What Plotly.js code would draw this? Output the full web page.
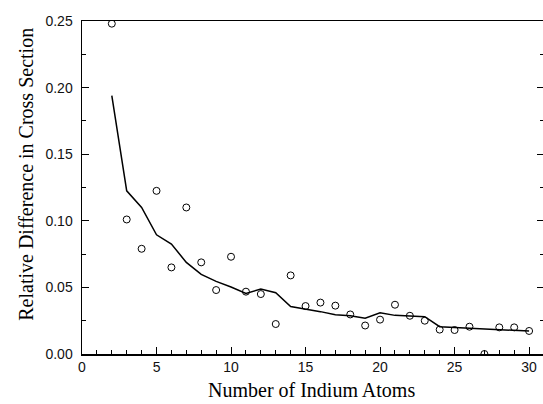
<!DOCTYPE html>
<html>
<head>
<meta charset="utf-8">
<script src="https://cdn.plot.ly/plotly-3.0.1.min.js"></script>
<style>
html, body { margin: 0; padding: 0; overflow: hidden; background: #fff; }
#chart { width: 548px; height: 404px; }
</style>
</head>
<body>
<div id="chart"></div>
<script>
// Number of indium atoms
const atoms = [2,3,4,5,6,7,8,9,10,11,12,13,14,15,16,17,18,19,20,21,22,23,24,25,26,27,28,29,30];
// Measured relative difference (open circles)
const measured = [0.248,0.101,0.079,0.1225,0.065,0.110,0.0688,0.048,0.073,0.0468,0.045,0.0225,0.059,0.036,0.0386,0.0363,0.0297,0.0214,0.0258,0.037,0.0287,0.025,0.0183,0.018,0.0205,0.0,0.020,0.020,0.0173];
// Calculated relative difference (solid line)
const calculated = [0.194,0.1225,0.110,0.0895,0.0825,0.0688,0.0598,0.0545,0.0503,0.0455,0.0487,0.046,0.0356,0.0338,0.0318,0.0295,0.0288,0.0268,0.031,0.029,0.0285,0.028,0.0205,0.020,0.0194,0.0188,0.0183,0.0178,0.0172];
const xTickVals = [0,5,10,15,20,25,30];
const yTickVals = [0,0.05,0.10,0.15,0.20,0.25];
const xTitle = 'Number of Indium Atoms';
const yTitle = 'Relative Difference in Cross Section';

const traces = [
  {
    x: atoms, y: calculated, type: 'scatter', mode: 'lines',
    line: {color: '#000', width: 1.5}, showlegend: false, hoverinfo: 'skip'
  },
  {
    x: atoms, y: measured, type: 'scatter', mode: 'markers',
    marker: {symbol: 'circle-open', size: 7, color: '#000', line: {color: '#000', width: 1}},
    showlegend: false
  }
];

const layout = {
  width: 548, height: 404,
  margin: {l: 82, r: 4, t: 21, b: 50},
  paper_bgcolor: '#fff', plot_bgcolor: '#fff',
  showlegend: false,
  font: {family: 'Liberation Sans, Arial, sans-serif', color: '#000', size: 14},
  xaxis: {
    range: [0, 31], showgrid: false, zeroline: false,
    showline: true, linecolor: '#000', linewidth: 1.5, mirror: true,
    ticks: 'inside', ticklen: 7, tickwidth: 1, tickcolor: '#000',
    tickvals: xTickVals, ticktext: xTickVals.map(String),
    tickfont: {family: 'Liberation Sans, Arial, sans-serif', size: 14, color: '#111'},
    minor: {dtick: 1, tick0: 0, ticks: 'inside', ticklen: 4, tickwidth: 1, tickcolor: '#000', showgrid: false}
  },
  yaxis: {
    range: [0, 0.25], showgrid: false, zeroline: false,
    showline: true, linecolor: '#000', linewidth: 1.5, mirror: 'ticks',
    ticks: 'inside', ticklen: 7, tickwidth: 1, tickcolor: '#000',
    ticklabelstandoff: 5,
    tickvals: yTickVals, ticktext: yTickVals.map(v => v.toFixed(2)),
    tickfont: {family: 'Liberation Sans, Arial, sans-serif', size: 14, color: '#111'},
    minor: {dtick: 0.025, tick0: 0, ticks: 'inside', ticklen: 4, tickwidth: 1, tickcolor: '#000', showgrid: false}
  },
  annotations: [
    {
      text: xTitle, xref: 'paper', yref: 'paper', x: 0.497, y: -0.108,
      xanchor: 'center', yanchor: 'middle', showarrow: false,
      font: {family: 'Liberation Serif, Times New Roman, serif', size: 20, color: '#000'}
    },
    {
      text: yTitle, xref: 'paper', yref: 'paper', x: -0.12, y: 0.54,
      xanchor: 'center', yanchor: 'middle', textangle: -90, showarrow: false,
      font: {family: 'Liberation Serif, Times New Roman, serif', size: 20, color: '#000'}
    }
  ]
};

Plotly.newPlot('chart', traces, layout, {displayModeBar: false, staticPlot: true});
</script>
</body>
</html>
